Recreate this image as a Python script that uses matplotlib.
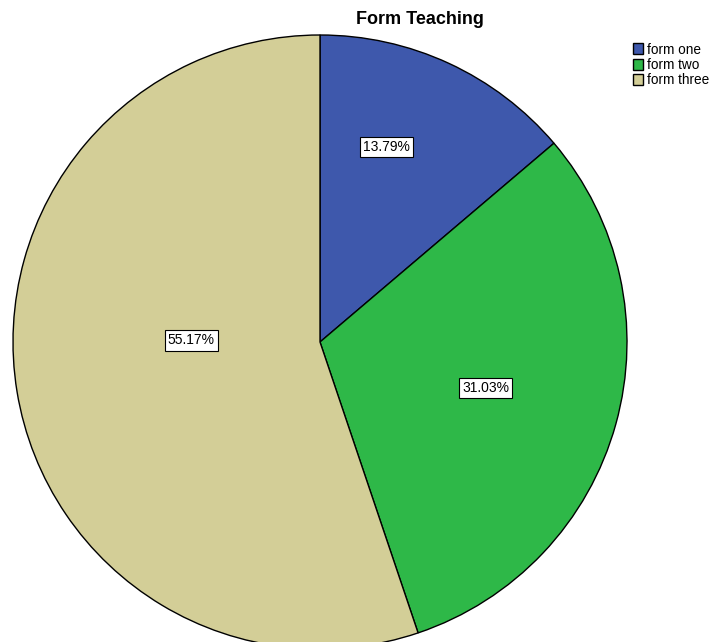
import matplotlib
matplotlib.use("Agg")
import matplotlib.pyplot as plt
import numpy as np

# Form Teaching breakdown
categories = ["form one", "form two", "form three"]
percents = [13.79, 31.03, 55.17]
colors = ["#3E58AC", "#2EB848", "#D3CE97"]

W, H = 716, 642
fig = plt.figure(figsize=(W / 100, H / 100), dpi=100)

# pie centred at (320, 342) px with radius 307 px
cx, cy, r = 320, 342, 307
ax = fig.add_axes([(cx - r) / W, (H - cy - r) / H, 2 * r / W, 2 * r / H])

wedges, _ = ax.pie(percents, colors=colors, startangle=90, counterclock=False,
                   radius=1, center=(0, 0), frame=False,
                   wedgeprops=dict(edgecolor="black", linewidth=1.0))
for w in wedges:
    w.set_clip_on(False)
ax.set_xlim(-1, 1)
ax.set_ylim(-1, 1)
ax.set_aspect("equal")
ax.axis("off")

# percentage labels, placed along each wedge's bisector
label_r = [0.67, 0.56, 0.42]
label_shift = [6, 0, -10]
for w, p, lr, sh in zip(wedges, percents, label_r, label_shift):
    ang = np.deg2rad((w.theta1 + w.theta2) / 2 + sh)
    ax.text(lr * np.cos(ang), lr * np.sin(ang), f"{p:.2f}%",
            ha="center", va="center", fontsize=10, family="Liberation Sans",
            bbox=dict(boxstyle="square,pad=0.22", facecolor="white",
                      edgecolor="black", linewidth=0.8))

fig.text(420 / W, 1 - 19 / H, "Form Teaching", ha="center", va="center",
         fontsize=13, fontweight="bold", family="Liberation Sans")

leg = fig.legend(wedges, categories, loc="upper left",
                 bbox_to_anchor=(623 / W, 1 - 33 / H), frameon=False,
                 prop=dict(family="Liberation Sans", size=9.8),
                 handlelength=0.8, handleheight=0.9, handletextpad=0.3,
                 labelspacing=0.1, borderpad=0.2)

fig.savefig("out.png", dpi=100)
